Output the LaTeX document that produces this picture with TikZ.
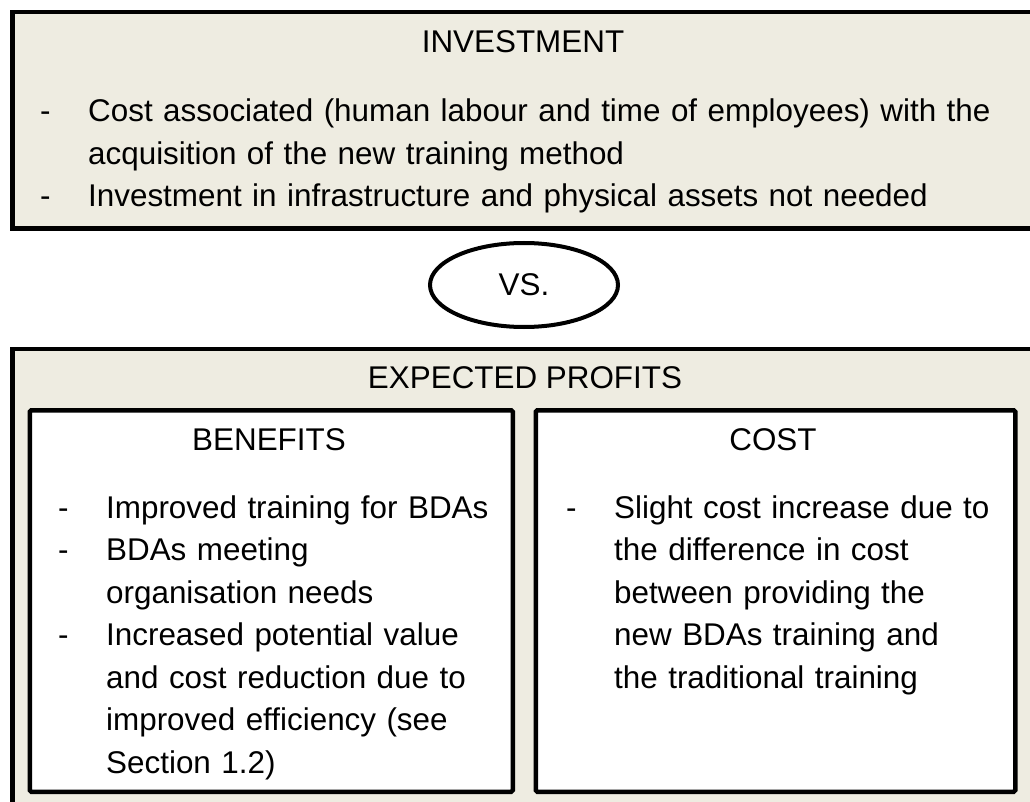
\documentclass[tikz,border=0pt]{standalone}
\usepackage{fontspec}
\setmainfont{Liberation Sans}
\usepackage{tikz}
\usetikzlibrary{shapes,positioning}
\definecolor{tanbg}{HTML}{EEECE1}
\newcommand{\dashitem}[1]{\noindent\hangindent=48pt\hangafter=1\makebox[48pt][l]{-}#1\par}

\begin{document}
\begin{tikzpicture}[x=1pt,y=-1pt,
  outer box/.style={rectangle,draw,line width=4.5pt,fill=tanbg,anchor=north west,inner sep=0pt},
  inner box/.style={rectangle,draw,line width=4.5pt,fill=white,rounded corners=1.5pt,anchor=north west,inner sep=0pt},
  vs node/.style={ellipse,draw,line width=4pt,inner sep=0pt},
  head/.style={anchor=base,inner sep=0pt,font=\fontsize{31.4}{42.5}\selectfont},
  items/.style={anchor=base west,inner sep=0pt,font=\fontsize{31.4}{42.5}\selectfont}]
\clip (0,0) rectangle (1030,802);
\fill[white] (0,0) rectangle (1030,802);
\node[outer box,minimum width=1040pt,minimum height=216.5pt] (invest) at (10,10) {};
\node[outer box,minimum width=1040pt,minimum height=480pt] (profits) at (10,346.5) {};
\node[inner box,minimum width=483pt,minimum height=381.5pt] (benefits) at (27.5,408) {};
\node[inner box,minimum width=479.5pt,minimum height=381.5pt] (cost) at (533.5,408) {};
\node[vs node,minimum width=188pt,minimum height=84pt,font=\fontsize{31.4}{42.5}\selectfont] (vs) at (524,285) {VS.};
\node[head] (investhead) at (523,53) {INVESTMENT};
\node[head] (profitshead) at (525,388) {EXPECTED PROFITS};
\node[head] (benefitshead) at (269,450) {BENEFITS};
\node[head] (costhead) at (773,450) {COST};
\node[items,text width=980pt] (investlist) at (40,121.7) {%
  \dashitem{Cost associated (human labour and time of employees) with the\newline acquisition of the new training method}%
  \dashitem{Investment in infrastructure and physical assets not needed\hfill}};
\node[items,text width=448pt] (benefitslist) at (58,518) {%
  \dashitem{Improved training for BDAs\hfill}%
  \dashitem{BDAs meeting\newline organisation needs}%
  \dashitem{Increased potential value\newline and cost reduction due to\newline improved efficiency (see\newline Section 1.2)}};
\node[items,text width=442pt] (costlist) at (566,518) {%
  \dashitem{Slight cost increase due to\newline the difference in cost\newline between providing the\newline new BDAs training and\newline the traditional training}};
\end{tikzpicture}
\end{document}
